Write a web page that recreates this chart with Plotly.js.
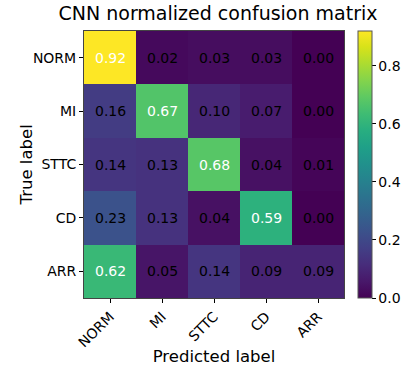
<!DOCTYPE html>
<html><head><meta charset="utf-8">
<script src="https://cdn.plot.ly/plotly-3.0.1.min.js"></script>
<style>html,body{margin:0;padding:0;background:#fff;}</style>
</head><body>
<div id="chart" style="width:414px;height:366px;"></div>
<script>
const predictedLabels = ["NORM", "MI", "STTC", "CD", "ARR"];
const trueLabels = ["NORM", "MI", "STTC", "CD", "ARR"];
const rowNORM = [0.92, 0.02, 0.03, 0.03, 0.00];
const rowMI   = [0.16, 0.67, 0.10, 0.07, 0.00];
const rowSTTC = [0.14, 0.13, 0.68, 0.04, 0.01];
const rowCD   = [0.23, 0.13, 0.04, 0.59, 0.00];
const rowARR  = [0.62, 0.05, 0.14, 0.09, 0.09];
const matrix = [rowNORM, rowMI, rowSTTC, rowCD, rowARR];
const colorbarTicks = [0.0, 0.2, 0.4, 0.6, 0.8];

const font = "DejaVu Sans, sans-serif";
let zmax = 0;
matrix.forEach(r => r.forEach(v => { if (v > zmax) zmax = v; }));
const thresh = zmax / 2;

const annotations = [];
matrix.forEach((row, i) => row.forEach((v, j) => {
  annotations.push({
    x: predictedLabels[j], y: trueLabels[i], xref: 'x', yref: 'y',
    text: v.toFixed(2), showarrow: false,
    font: {family: font, size: 14, color: v > thresh ? '#ffffff' : '#000000'}
  });
}));
annotations.push({
  text: 'True label', textangle: -90, showarrow: false,
  xref: 'paper', yref: 'paper', x: (25 - 84) / 269, y: 0.5,
  xanchor: 'center', yanchor: 'middle',
  font: {family: font, size: 16.5, color: '#000'}
});

const trace = {
  type: 'heatmap',
  x: predictedLabels, y: trueLabels, z: matrix,
  colorscale: 'Viridis', zmin: 0, zmax: zmax,
  xgap: 0, ygap: 0,
  hoverinfo: 'none',
  colorbar: {
    x: 1.055, xanchor: 'left', xref: 'paper',
    y: 0.5, yanchor: 'middle', len: 1, lenmode: 'fraction',
    thickness: 14, thicknessmode: 'pixels',
    outlinewidth: 1, outlinecolor: '#555',
    tickvals: colorbarTicks, ticktext: colorbarTicks.map(t => t.toFixed(1)),
    ticks: 'outside', ticklen: 3.5, tickwidth: 1, tickcolor: '#000',
    tickfont: {family: font, size: 14, color: '#000'},
    xpad: 0, ypad: 0
  }
};

const layout = {
  width: 414, height: 366,
  margin: {l: 84, r: 61, t: 31, b: 68},
  paper_bgcolor: '#fff', plot_bgcolor: '#fff',
  font: {family: font, color: '#000'},
  title: {text: 'CNN normalized confusion matrix', font: {family: font, size: 19, color: '#000'},
          x: 218/414, xanchor: 'center', y: 1 - 13/366, yanchor: 'middle'},
  xaxis: {
    type: 'category', tickangle: -45,
    ticks: 'outside', ticklen: 4, tickwidth: 1, tickcolor: '#000',
    tickfont: {family: font, size: 14, color: '#000'},
    showline: true, linecolor: '#444', linewidth: 1, mirror: true,
    showgrid: false, zeroline: false, automargin: false,
    title: {text: 'Predicted label', font: {family: font, size: 16.5, color: '#000'}, standoff: 2}
  },
  yaxis: {
    type: 'category', autorange: 'reversed',
    ticks: 'outside', ticklen: 4, tickwidth: 1, tickcolor: '#000',
    tickfont: {family: font, size: 14, color: '#000'},
    showline: true, linecolor: '#444', linewidth: 1, mirror: true,
    showgrid: false, zeroline: false, automargin: false
  },
  annotations: annotations
};

Plotly.newPlot('chart', [trace], layout, {displayModeBar: false, staticPlot: true});
</script>
</body></html>
